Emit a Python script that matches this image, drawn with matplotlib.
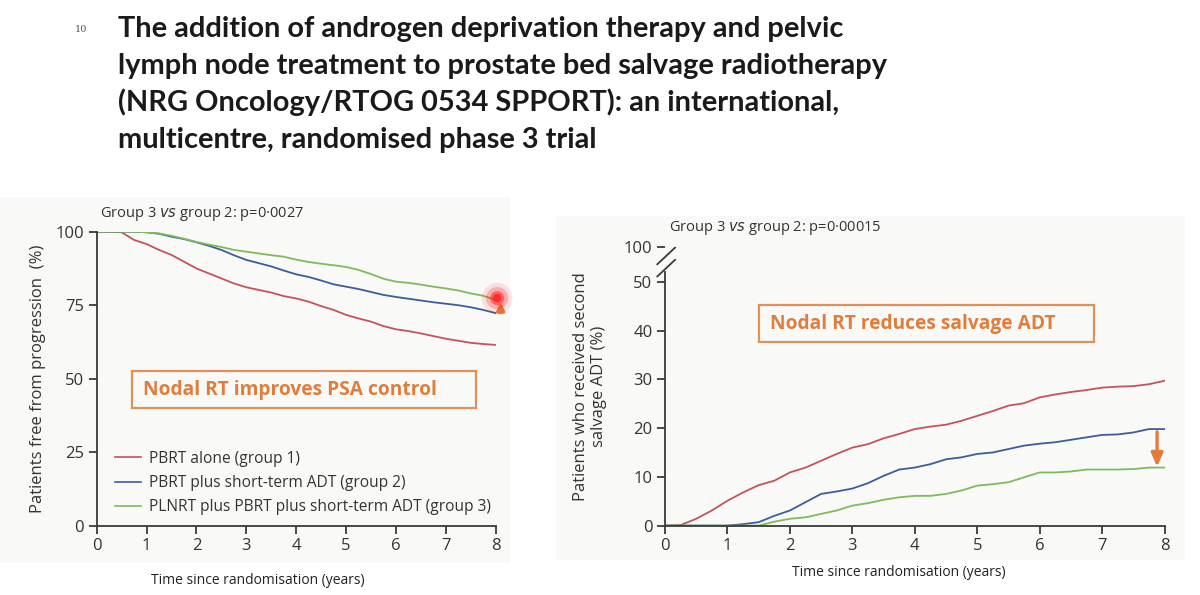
import matplotlib
matplotlib.use("Agg")
import matplotlib.pyplot as plt
from matplotlib import font_manager
from matplotlib.patches import Rectangle
from matplotlib.lines import Line2D

# ---------------- data ----------------
title_lines = [
    "The addition of androgen deprivation therapy and pelvic",
    "lymph node treatment to prostate bed salvage radiotherapy",
    "(NRG Oncology/RTOG 0534 SPPORT): an international,",
    "multicentre, randomised phase 3 trial",
]
series_labels = ["PBRT alone (group 1)",
                 "PBRT plus short-term ADT (group 2)",
                 "PLNRT plus PBRT plus short-term ADT (group 3)"]
series_colors = ["#c4535a", "#3c5d9c", "#7dbb5c"]

years = [0, 0.25, 0.5, 0.75, 1.0, 1.25, 1.5, 1.75, 2.0, 2.25, 2.5, 2.75, 3.0,
         3.25, 3.5, 3.75, 4.0, 4.25, 4.5, 4.75, 5.0, 5.25, 5.5, 5.75, 6.0,
         6.25, 6.5, 6.75, 7.0, 7.25, 7.5, 7.75, 8.0]

free_g1 = [100, 100, 99.8, 97.2, 95.8, 93.8, 92.1, 89.8, 87.5, 85.8, 84.1, 82.4, 81.1,
           80.2, 79.3, 78.1, 77.3, 76.2, 74.7, 73.4, 71.7, 70.5, 69.4, 67.9, 66.8,
           66.2, 65.4, 64.5, 63.6, 62.9, 62.2, 61.8, 61.5]
free_g2 = [100, 100, 100, 100, 99.8, 99.3, 98.3, 97.5, 96.4, 95.2, 93.8, 92.0, 90.4,
           89.3, 88.2, 86.8, 85.5, 84.6, 83.4, 82.1, 81.3, 80.5, 79.5, 78.5, 77.8,
           77.2, 76.6, 76.0, 75.5, 75.0, 74.3, 73.4, 72.3]
free_g3 = [100, 100, 100, 100, 99.8, 99.4, 98.6, 97.6, 96.5, 95.6, 94.8, 93.8, 93.2,
           92.6, 92.0, 91.5, 90.5, 89.7, 89.1, 88.6, 88.0, 87.0, 85.6, 84.0, 83.0,
           82.6, 82.0, 81.3, 80.7, 80.0, 79.0, 78.2, 76.8]

adt_g1 = [0, 0.1, 1.4, 3.1, 5.1, 6.8, 8.3, 9.2, 10.9, 11.9, 13.3, 14.7, 16.0,
          16.7, 17.9, 18.8, 19.8, 20.3, 20.7, 21.5, 22.5, 23.5, 24.6, 25.1, 26.3,
          26.9, 27.4, 27.8, 28.3, 28.5, 28.6, 29.0, 29.7]
adt_g2 = [0, 0, 0, 0, 0, 0.3, 0.7, 2.0, 3.1, 4.8, 6.5, 7.0, 7.6,
          8.7, 10.2, 11.5, 11.9, 12.6, 13.6, 14.0, 14.7, 15.0, 15.7, 16.4, 16.8,
          17.1, 17.6, 18.1, 18.6, 18.7, 19.1, 19.8, 19.8]
adt_g3 = [0, 0, 0, 0, 0, 0, 0, 0.8, 1.4, 1.7, 2.4, 3.1, 4.1,
          4.6, 5.3, 5.8, 6.1, 6.1, 6.5, 7.2, 8.2, 8.5, 8.9, 9.9, 10.9,
          10.9, 11.1, 11.5, 11.5, 11.5, 11.6, 11.9, 11.9]

left_yticks = [0, 25, 50, 75, 100]
right_yticks = [0, 10, 20, 30, 40, 50]
xticks = [0, 1, 2, 3, 4, 5, 6, 7, 8]

# ---------------- fonts ----------------
def has_font(name):
    try:
        font_manager.findfont(name, fallback_to_default=False)
        return True
    except Exception:
        return False

title_font = "Liberation Sans Narrow" if has_font("Liberation Sans Narrow") else "Lato"
body_font = "Open Sans"
plt.rcParams["font.family"] = [body_font, "DejaVu Sans"]

W, H = 1200, 595
fig = plt.figure(figsize=(12, 5.95), dpi=100)
fig.patch.set_facecolor("white")

def px(x, y):
    return x / W, 1 - y / H

# faint panel backgrounds (behind everything)
fig.patches.append(Rectangle(px(0, 563), 510 / W, (563 - 197) / H, transform=fig.transFigure,
                             facecolor="#f9f9f7", edgecolor="none", zorder=-10))
fig.patches.append(Rectangle(px(556, 560), (1185 - 556) / W, (560 - 216) / H, transform=fig.transFigure,
                             facecolor="#f9f9f7", edgecolor="none", zorder=-10))

# title
fig.text(*px(75, 32), "10", fontsize=7, color="#555555", family="DejaVu Serif", va="baseline")
baselines = [37, 74, 111, 148]
for line, yb in zip(title_lines, baselines):
    fig.text(*px(118, yb), line, fontsize=20.9, fontweight="bold", family=title_font,
             color="#1a1a1a", va="baseline", ha="left")

axis_color = "#3a3a3a"

def style_axes(ax):
    for s in ["top", "right"]:
        ax.spines[s].set_visible(False)
    for s in ["left", "bottom"]:
        ax.spines[s].set_color(axis_color)
        ax.spines[s].set_linewidth(1.3)
    ax.tick_params(direction="out", length=6, width=1.3, color=axis_color,
                   labelsize=12, labelcolor="#333333", pad=3)
    ax.set_facecolor("none")

# ---------------- left chart ----------------
axL = fig.add_axes([96.7 / W, 1 - 525.7 / H, (495.7 - 96.7) / W, (525.7 - 231.7) / H])
style_axes(axL)
for vals, c, lab in zip([free_g1, free_g2, free_g3], series_colors, series_labels):
    axL.plot(years, vals, color=c, lw=1.3, label=lab, solid_joinstyle="round")
axL.set_xlim(0, 8)
axL.set_ylim(0, 100)
axL.set_xticks(xticks)
axL.set_yticks(left_yticks)
axL.set_ylabel("Patients free from progression  (%)", fontsize=12, color="#333333", labelpad=7)
fig.text(*px(100, 217), r"Group 3 $\it{vs}$ group 2: p=0·0027", fontsize=10.5, color="#333333")
fig.text(*px(258, 580), "Time since randomisation (years)", fontsize=10, color="#222222",
         ha="center", va="center")
leg = axL.legend(loc="lower left", bbox_to_anchor=(0.031, 0.015), frameon=False,
                 fontsize=11.2, handlelength=1.65, handletextpad=0.5, labelspacing=0.52,
                 labelcolor="#333333", borderaxespad=0)
for h in leg.get_lines():
    h.set_linewidth(1.2)

fig.patches.append(Rectangle(px(132, 408), (476 - 132) / W, (408 - 371) / H, transform=fig.transFigure,
                             facecolor="none", edgecolor="#e0905a", lw=1.6, zorder=5))
fig.text(*px(143, 390), "Nodal RT improves PSA control", fontsize=13.8, fontweight="bold",
         color="#e07d3c", va="center", ha="left")

# highlight at end of left chart
for r, a in [(11, 0.12), (8, 0.25), (5, 0.55), (3, 0.8)]:
    axL.scatter([8.03], [77.4], s=(2 * r) ** 2, color="#ff2020", alpha=a, edgecolors="none",
                clip_on=False, zorder=6)
axL.annotate("", xy=(8.1, 77.0), xytext=(8.1, 71.5),
             arrowprops=dict(arrowstyle="-|>,head_width=0.22,head_length=0.45", color="#e07d3c", lw=2.4),
             annotation_clip=False)

# ---------------- right chart ----------------
top_val = 57.2
axR = fig.add_axes([665 / W, 1 - 525.6 / H, (1164.6 - 665) / W, (525.6 - 246.7) / H])
style_axes(axR)
for vals, c in zip([adt_g1, adt_g2, adt_g3], series_colors):
    axR.plot(years, vals, color=c, lw=1.3)
axR.set_xlim(0, 8)
axR.set_ylim(0, top_val)
axR.set_xticks(xticks)
axR.set_yticks(right_yticks + [top_val])
axR.set_yticklabels([str(v) for v in right_yticks] + ["100"])
axR.spines["left"].set_bounds(0, 52)
axR.set_ylabel("Patients who received second\nsalvage ADT (%)", fontsize=12, color="#333333",
               labelpad=12, linespacing=1.15)
for (x0, y0, x1, y1) in [(-0.123, 51.1, 0.16, 54.5), (-0.123, 53.6, 0.16, 57.0)]:
    axR.add_line(Line2D([x0, x1], [y0, y1], color=axis_color, lw=1.3, clip_on=False))
fig.text(*px(669, 231), r"Group 3 $\it{vs}$ group 2: p=0·00015", fontsize=10.5, color="#333333")
fig.text(*px(899, 573), "Time since randomisation (years)", fontsize=10, color="#222222",
         ha="center", va="center")

fig.patches.append(Rectangle(px(759, 342), (1094 - 759) / W, (342 - 305) / H, transform=fig.transFigure,
                             facecolor="none", edgecolor="#e0905a", lw=1.6, zorder=5))
fig.text(*px(770, 324), "Nodal RT reduces salvage ADT", fontsize=13.8, fontweight="bold",
         color="#e07d3c", va="center", ha="left")

axR.annotate("", xy=(7.88, 11.5), xytext=(7.88, 19.8),
             arrowprops=dict(arrowstyle="-|>,head_width=0.35,head_length=0.8", color="#e07d3c", lw=2.4),
             annotation_clip=False)

fig.savefig("out.png", dpi=100, facecolor="white")
